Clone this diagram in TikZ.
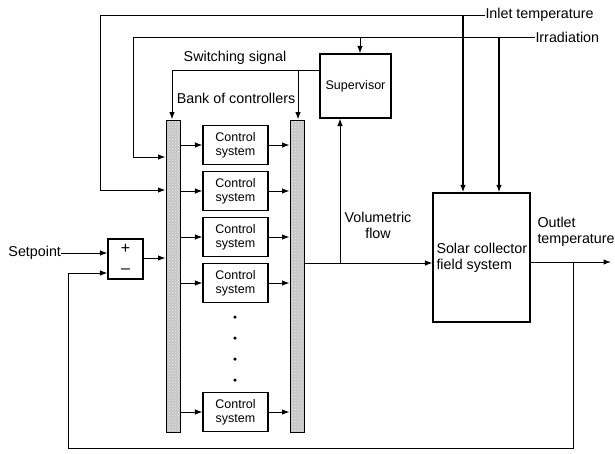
\documentclass[tikz,border=0pt]{standalone}
\usepackage{fontspec}
\setmainfont{Liberation Sans}
\usetikzlibrary{arrows.meta,patterns}
\begin{document}
\begin{tikzpicture}[x=1pt,y=-1pt,
  line width=1pt,
  arr/.style={-{Latex[length=7.5pt,width=5.5pt]}},
  lbl/.style={font=\fontsize{14.3}{16}\selectfont, inner sep=0pt},
  blk/.style={draw, rectangle, inner sep=0pt, line width=1.1pt},
  csbox/.style={blk, minimum width=65pt, minimum height=39pt, align=center,
    font=\fontsize{12.5}{14}\selectfont},
  bar/.style={draw, rectangle, inner sep=0pt, minimum width=14pt, minimum height=312pt,
    preaction={fill=gray!45}, pattern=crosshatch dots, pattern color=white!85!gray},
  dotm/.style={circle, fill, inner sep=0pt, minimum size=3.5pt}
]
\useasboundingbox (0,0) rectangle (615,453);

% bars
\node[bar] (lbar) at (173,276) {};
\node[bar] (rbar) at (297,276) {};

% control systems
\node[csbox] (cs1) at (235.5,145) {Control\\system};
\node[csbox] (cs2) at (235.5,191) {Control\\system};
\node[csbox] (cs3) at (235.5,237) {Control\\system};
\node[csbox] (cs4) at (235.5,283) {Control\\system};
\node[csbox] (cs5) at (235.5,412) {Control\\system};
\node[dotm] (d1) at (235,317) {};
\node[dotm] (d2) at (235,338) {};
\node[dotm] (d3) at (235,359) {};
\node[dotm] (d4) at (235,380) {};

\foreach \i in {1,...,5}{
  \draw[arr] (lbar.east |- cs\i.west) -- (cs\i.west);
  \draw[arr] (cs\i.east) -- (rbar.west |- cs\i.east);
}

% supervisor, solar, sum
\node[blk, minimum width=71pt, minimum height=64pt, font=\fontsize{12.5}{14}\selectfont] (sup) at (355.5,86) {Supervisor};
\node[blk, minimum width=97pt, minimum height=129pt] (sol) at (481.5,257.5) {};
\node[lbl, anchor=west, align=left] (soltxt) at (436,258) {Solar collector\\field system};
\node[blk, minimum width=35pt, minimum height=40pt] (sum) at (125.5,259) {};
\node[lbl, font=\fontsize{16}{18}\selectfont] (plus) at (125.5,249) {+};
\node[lbl, font=\fontsize{16}{18}\selectfont] (minus) at (125.5,271) {\textendash};

% labels
\node[lbl, anchor=west] (inlet) at (485,15) {Inlet temperature};
\node[lbl, anchor=west] (irr) at (535,37) {Irradiation};
\node[lbl] (sw) at (235,58) {Switching signal};
\node[lbl] (bank) at (236,98) {Bank of controllers};
\node[lbl, align=center] (vol) at (378,225) {Volumetric\\flow};
\node[lbl, anchor=west, align=left] (out) at (537,232) {Outlet\\temperature};
\node[lbl, anchor=west] (setp) at (8,253) {Setpoint};

% coordinates
\coordinate (itl) at (100,15);
\coordinate (itb) at (100,190);
\coordinate (irl) at (133,37);
\coordinate (irb) at (133,157);
\coordinate (swl) at (172,70);
\coordinate (swr) at (298,70);
\coordinate (vf) at (340,263);
\coordinate (ofb) at (573,262);
\coordinate (oend) at (611,262);
\coordinate (fbr) at (573,448);
\coordinate (fbl) at (68,448);
\coordinate (fbu) at (68,273);

% inlet temperature
\draw[arr] (inlet.west) -- (itl) -- (itb) -- (lbar.west |- itb);
\draw[arr, line width=1.5pt] (inlet.west -| 463,0) -- (463,0 |- sol.north);
% irradiation
\draw[arr] (irr.west) -- (irl) -- (irb) -- (lbar.west |- irb);
\draw[arr, line width=1.5pt] (irr.west -| 499,0) -- (499,0 |- sol.north);
\draw[arr] (irr.west -| 360,0) -- (360,0 |- sup.north);
% switching signal
\draw (sup.west |- swl) -- (swl);
\draw[arr] (swl) -- (swl |- lbar.north);
\draw[arr] (swr) -- (swr |- rbar.north);
% volumetric flow
\draw[arr] (rbar.east |- vf) -- (sol.west |- vf);
\draw[arr] (vf) -- (vf |- sup.south);
% output and feedback
\draw[arr] (sol.east |- ofb) -- (oend);
\draw[arr] (ofb) -- (fbr) -- (fbl) -- (fbu) -- (sum.west |- fbu);
% setpoint and sum output
\draw[arr] (setp.east) -- (sum.west |- setp.east);
\draw[arr] (sum.east |- 0,258) -- (lbar.west |- 0,258);
\end{tikzpicture}
\end{document}
